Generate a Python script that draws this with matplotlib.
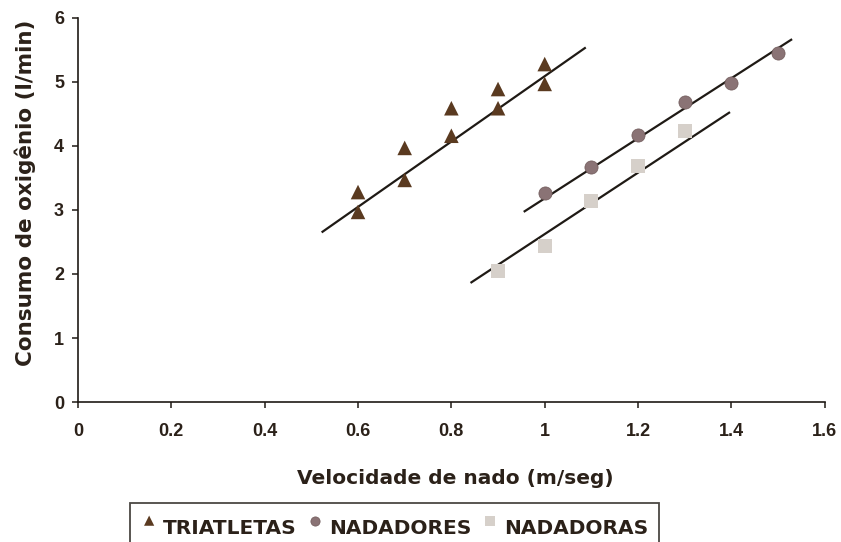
"""
plot.py
Consumo de oxigênio vs velocidade de nado, three groups with trend lines.
"""

import matplotlib

matplotlib.use("Agg")
import matplotlib.pyplot as plt  # noqa: E402

# data
tri_x = [0.6, 0.6, 0.7, 0.7, 0.8, 0.8, 0.9, 0.9, 1.0, 1.0]
tri_y = [3.28, 2.97, 3.97, 3.47, 4.59, 4.16, 4.89, 4.59, 5.28, 4.97]

nad_x = [1.0, 1.1, 1.2, 1.3, 1.4, 1.5]
nad_y = [3.27, 3.67, 4.17, 4.69, 4.98, 5.45]

nda_x = [0.9, 1.0, 1.1, 1.2, 1.3]
nda_y = [2.04, 2.44, 3.14, 3.69, 4.24]

# hand-drawn trend lines (end points as seen in the figure)
tri_trend_x = [0.524, 1.086]
tri_trend_y = [2.66, 5.53]
nad_trend_x = [0.957, 1.528]
nad_trend_y = [2.98, 5.66]
nda_trend_x = [0.843, 1.395]
nda_trend_y = [1.87, 4.52]

x_ticks = [0, 0.2, 0.4, 0.6, 0.8, 1.0, 1.2, 1.4, 1.6]
x_tick_labels = ["0", "0.2", "0.4", "0.6", "0.8", "1", "1.2", "1.4", "1.6"]
y_ticks = [0, 1, 2, 3, 4, 5, 6]

TEXT = "#2b2119"
LINE = "#1f1a15"
WIDE = ["DejaVu Sans"]

plt.rcParams["font.family"] = ["Liberation Sans", "DejaVu Sans"]
plt.rcParams["font.weight"] = "bold"

fig = plt.figure(figsize=(8.41, 5.42), dpi=100)
ax = fig.add_axes([0.0927, 0.2583, 0.888, 0.7085])

ax.plot(tri_trend_x, tri_trend_y, color=LINE, lw=1.6, zorder=2)
ax.plot(nad_trend_x, nad_trend_y, color=LINE, lw=1.6, zorder=2)
ax.plot(nda_trend_x, nda_trend_y, color=LINE, lw=1.6, zorder=2)

ax.scatter(tri_x, tri_y, marker="^", s=110, color="#5a3a20",
           edgecolors="none", label="TRIATLETAS", zorder=3)
ax.scatter(nad_x, nad_y, marker="o", s=90, color="#8a7375",
           edgecolors="#6e5858", linewidths=0.5, label="NADADORES", zorder=3)
ax.scatter(nda_x, nda_y, marker="s", s=100, color="#d6d0ca",
           edgecolors="none", label="NADADORAS", zorder=3)

ax.set_xlim(0, 1.6)
ax.set_ylim(0, 6)
ax.set_xticks(x_ticks)
ax.set_xticklabels(x_tick_labels)
ax.set_yticks(y_ticks)

for side in ("top", "right"):
    ax.spines[side].set_visible(False)
for side in ("left", "bottom"):
    ax.spines[side].set_color(LINE)
    ax.spines[side].set_linewidth(1.2)

ax.tick_params(axis="both", colors=LINE, length=4, width=1.1,
               labelcolor=TEXT, labelsize=13)
ax.tick_params(axis="x", pad=11)
ax.tick_params(axis="y", pad=6)

# axis titles placed by pixel position on the figure
fig.text(455 / 841, 1 - 479 / 542, "Velocidade de nado (m/seg)",
         family=WIDE, fontsize=14.5, fontweight="bold", color=TEXT,
         ha="center", va="center")
fig.text(25 / 841, 1 - 193 / 542, "Consumo de oxigênio (l/min)",
         family=WIDE, fontsize=15.5, fontweight="bold", color=TEXT,
         rotation=90, ha="center", va="center")

leg = fig.legend(loc="upper left", bbox_to_anchor=(130 / 841, 1 - 503 / 542),
                 borderaxespad=0, ncol=3, frameon=True, fancybox=False,
                 prop={"family": WIDE, "size": 14.5, "weight": "bold"},
                 handletextpad=0.3, columnspacing=0.5, handlelength=0.8,
                 handleheight=1.6, borderpad=0.55, markerscale=0.7,
                 scatterpoints=1, scatteryoffsets=[0.5])
leg.get_frame().set_edgecolor(LINE)
leg.get_frame().set_linewidth(1.3)
for t in leg.get_texts():
    t.set_color(TEXT)

fig.savefig("out.png", dpi=100)
